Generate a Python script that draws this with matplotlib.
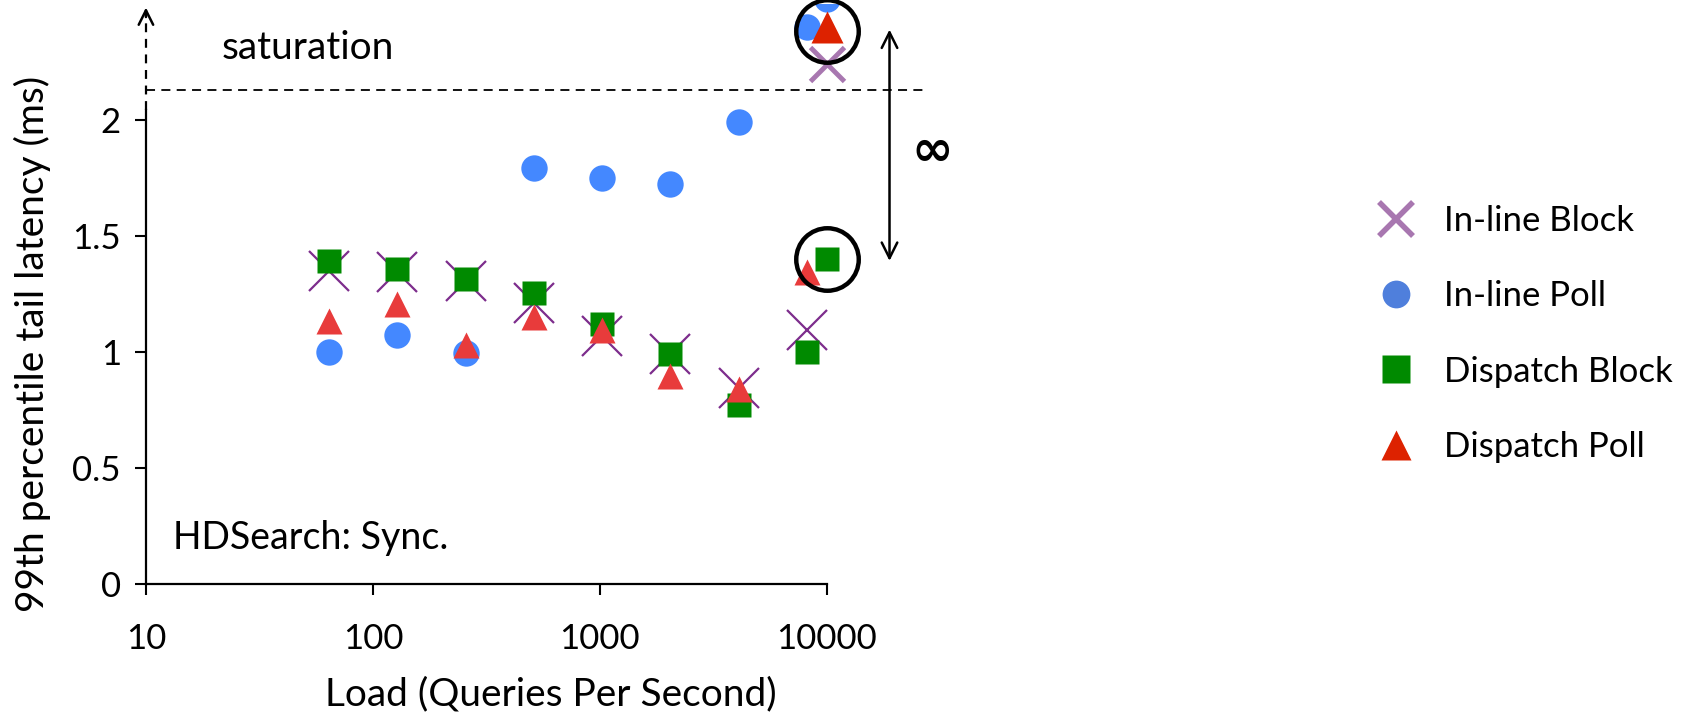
import numpy as np
import matplotlib
matplotlib.use('Agg')
import matplotlib.pyplot as plt
from matplotlib.lines import Line2D

# load points (queries per second) and 99th percentile latency (ms)
loads = [64, 128, 256, 512, 1024, 2048, 4096, 8192]
inline_block = [1.35, 1.345, 1.305, 1.21, 1.07, 0.99, 0.845, 1.095]
inline_poll = [1.0, 1.075, 0.995, 1.79, 1.75, 1.725, 1.99, 2.40]
dispatch_block = [1.39, 1.355, 1.315, 1.255, 1.12, 0.99, 0.77, 1.0]
dispatch_poll = [1.135, 1.205, 1.03, 1.15, 1.095, 0.895, 0.84, 1.345]

# saturated points drawn at the 10000 QPS column
sat_load = 10000
sat_inline_block = 2.24
sat_inline_poll = 2.52
sat_dispatch_block = 1.40
sat_dispatch_poll = 2.40
saturation_level = 2.13

xticks = [10, 100, 1000, 10000]
yticks = [0, 0.5, 1, 1.5, 2]
series_names = ['In-line Block', 'In-line Poll', 'Dispatch Block', 'Dispatch Poll']

plt.rcParams['font.family'] = ['Lato', 'DejaVu Sans']

purple = '#7d2d8c'
purple_lt = '#a877b0'
blue = '#4488ff'
blue_lt = '#4f7fdc'
green = '#008a00'
red = '#e83b3b'
red_dk = '#dd2200'

fig = plt.figure(figsize=(16.97, 7.15), dpi=100)
ax = fig.add_axes([0.086, 0.183, 0.465, 0.812])
ax.set_xscale('log')
ax.set_xlim(10, 30000)
ax.set_ylim(0, 2.5)

ax.plot(loads, inline_poll, 'o', color=blue, ms=19, mec='none', zorder=3)
ax.plot([sat_load], [sat_inline_poll], 'o', color=blue, ms=19, mec='none', zorder=3)
ax.plot(loads, inline_block, 'x', color=purple, ms=29, mew=1.6, zorder=4)
ax.plot([sat_load], [sat_inline_block], 'x', color=purple_lt, ms=24, mew=3.5, zorder=4)
ax.plot(loads, dispatch_block, 's', color=green, ms=17, mec='none', zorder=5)
ax.plot([sat_load], [sat_dispatch_block], 's', color=green, ms=17, mec='none', zorder=5)
ax.plot(loads, dispatch_poll, '^', color=red, ms=19, mec='none', zorder=6)
ax.plot([sat_load], [sat_dispatch_poll], '^', color=red_dk, ms=23, mec='none', zorder=6)

# rings around the saturated points
ax.plot([sat_load, sat_load], [sat_dispatch_poll - 0.02, sat_dispatch_block],
        'o', ms=45, mfc='none', mec='black', mew=3.2, zorder=7, clip_on=False)

# saturation threshold
ax.plot([10, 28000], [saturation_level, saturation_level], color='black', lw=1.3,
        dashes=(5, 3.5), clip_on=False)
ax.text(21.5, 2.31, 'saturation', fontsize=28, va='center', ha='left')

# vertical double arrow with infinity
ax.annotate('', xy=(18900, 2.40), xytext=(18900, 1.38),
            arrowprops=dict(arrowstyle='<->', lw=1.8, color='black', mutation_scale=28))
ax.text(29300, 1.865, '\u221e', fontsize=36, fontweight='bold', ha='center', va='center',
        family='DejaVu Sans')

# axes styling
for side in ['top', 'right']:
    ax.spines[side].set_visible(False)
ax.spines['left'].set_bounds(0, 2.04)
ax.spines['bottom'].set_bounds(10, 10000)
for side in ['left', 'bottom']:
    ax.spines[side].set_linewidth(1.6)
ax.plot([10, 10], [2.04, 2.45], color='black', lw=1.6, dashes=(4, 3), clip_on=False)
ax.annotate('', xy=(10, 2.495), xytext=(10, 2.43),
            arrowprops=dict(arrowstyle='->', lw=1.8, color='black', mutation_scale=26),
            annotation_clip=False)

ax.set_xticks(xticks)
ax.set_xticklabels([str(t) for t in xticks])
ax.minorticks_off()
ax.set_yticks(yticks)
ax.set_yticklabels(['0', '0.5', '1', '1.5', '2'])
ax.tick_params(axis='both', direction='out', length=8, width=1.5, labelsize=25)
ax.tick_params(axis='x', pad=20)
ax.tick_params(axis='y', pad=10)

ax.set_xlabel('Load (Queries Per Second)', fontsize=28)
ax.xaxis.set_label_coords(0.513, -0.158)
ax.set_ylabel('99th percentile tail latency (ms)', fontsize=28)
ax.yaxis.set_label_coords(-0.12, 0.414)
ax.text(13.2, 0.2, 'HDSearch: Sync.', fontsize=27, va='center', ha='left')

# legend
handles = [
    Line2D([], [], ls='none', marker='x', color=purple_lt, ms=24, mew=4),
    Line2D([], [], ls='none', marker='o', color=blue_lt, ms=20, mec='none'),
    Line2D([], [], ls='none', marker='s', color=green, ms=20, mec='none'),
    Line2D([], [], ls='none', marker='^', color=red_dk, ms=22, mec='none'),
]
leg = fig.legend(handles, series_names, loc='center left', bbox_to_anchor=(0.80, 0.533),
                 frameon=False, fontsize=25, labelspacing=1.25, handlelength=1.2,
                 handletextpad=0.8, borderpad=0)

fig.savefig('out.png', dpi=100)
